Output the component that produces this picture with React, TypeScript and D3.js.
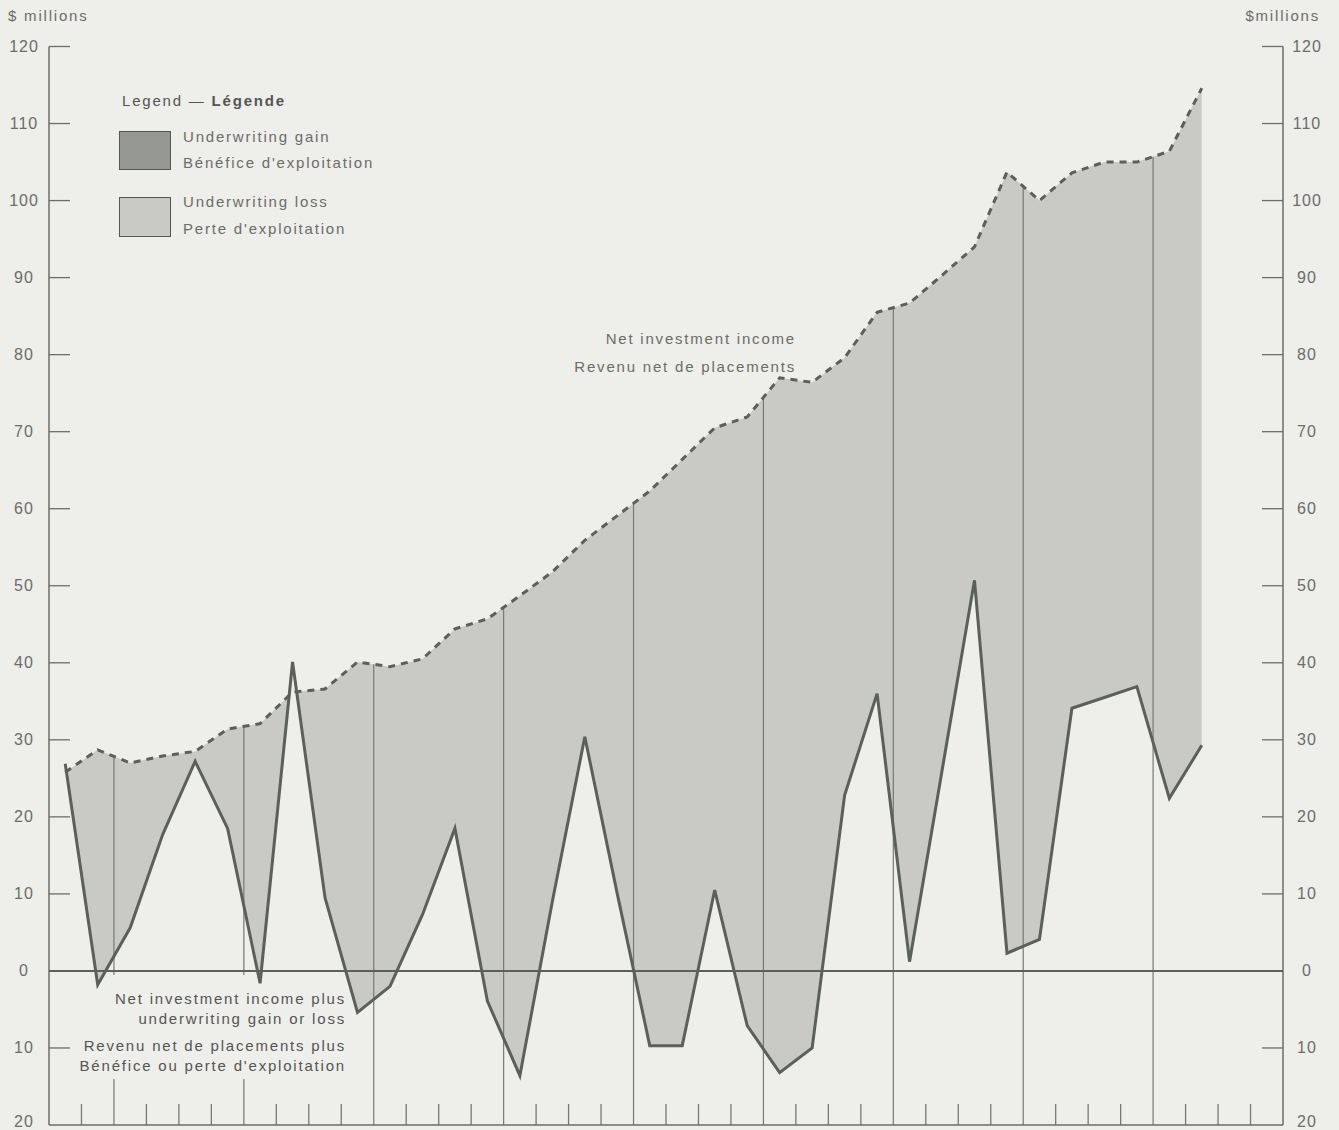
import React from 'react';
import * as d3 from 'd3';

// Quarterly data, $ millions
const netInvestmentIncome = [
  25.8, 28.7, 27.0, 27.9, 28.5, 31.4, 32.1, 36.2, 36.6, 40.1, 39.5, 40.5,
  44.4, 45.7, 48.7, 51.8, 55.9, 59.1, 62.3, 66.4, 70.5, 71.9, 77.0, 76.4,
  79.6, 85.5, 86.7, 90.3, 94.0, 103.7, 100.0, 103.6, 105.0, 105.0, 106.4, 114.6,
];
const incomePlusUnderwriting = [
  26.9, -1.8, 5.6, 17.7, 27.2, 18.5, -1.6, 40.1, 9.5, -5.4, -2.0, 7.3,
  18.5, -3.9, -13.6, 9.0, 30.4, 10.0, -9.7, -9.7, 10.5, -7.1, -13.2, -10.0,
  22.8, 36.0, 1.2, 26.0, 50.7, 2.3, 4.1, 34.1, 35.5, 36.9, 22.4, 29.3,
];
const quarterSlots = 38; // quarters spanned by the horizontal axis
const yearStartSlots = [2, 6, 10, 14, 18, 22, 26, 30, 34];
const yTicks = [120, 110, 100, 90, 80, 70, 60, 50, 40, 30, 20, 10, 0, -10, -20];
const yTickLabels = ['120', '110', '100', '90', '80', '70', '60', '50', '40', '30', '20', '10', '0', '10', '20'];

const FONT = "'Liberation Sans', Arial, Helvetica, sans-serif";
const BG = '#eeeeea';
const INK = '#5b605a';
const TEXT = '#6b6d69';

export default function App() {
  const W = 1339;
  const H = 1130;
  const x = d3.scaleLinear().domain([0, quarterSlots]).range([49, 1283]);
  const y = d3.scaleLinear().domain([-20, 120]).range([1125, 46.5]);
  const px = (_: number, i: number) => x(i + 0.5);

  const niiLine = d3.line<number>().x(px).y((d) => y(d))(netInvestmentIncome) || '';
  const totLine = d3.line<number>().x(px).y((d) => y(d))(incomePlusUnderwriting) || '';
  const aboveSolid = d3.area<number>().x(px).y0(0).y1((d) => y(d))(incomePlusUnderwriting) || '';
  const belowNii = d3.area<number>().x(px).y0(y(-20)).y1((d) => y(d))(netInvestmentIncome) || '';

  const tickSlots = d3.range(1, quarterSlots).filter((s) => !yearStartSlots.includes(s));
  const x0 = x(0);
  const x1 = x(quarterSlots);
  const yb = y(-20);

  const txt = {
    fontFamily: FONT,
    fontSize: 15,
    fill: TEXT,
    letterSpacing: 1.8,
  } as React.CSSProperties;
  const tickTxt = { ...txt, fontSize: 16, letterSpacing: 1 } as React.CSSProperties;

  return (
    <div style={{ position: 'absolute', left: 0, top: 0 }}>
      <svg width={W} height={H} viewBox={`0 0 ${W} ${H}`} style={{ display: 'block' }}>
        <defs>
          <clipPath id="aboveSolid">
            <path d={aboveSolid} />
          </clipPath>
          <clipPath id="yearClip">
            <path d="M0,0H1339V1130H0Z M78,975H350V1079H78Z" clipRule="evenodd" />
          </clipPath>
        </defs>
        <rect x={0} y={0} width={W} height={H} fill={BG} />

        {/* underwriting loss fill */}
        <path d={belowNii} fill="#c9cac5" clipPath="url(#aboveSolid)" />

        {/* year lines */}
        <g clipPath="url(#yearClip)">
          {yearStartSlots.map((s) => (
            <line
              key={s}
              x1={x(s)}
              x2={x(s)}
              y1={y((netInvestmentIncome[s - 1] + netInvestmentIncome[s]) / 2)}
              y2={yb}
              stroke="#767974"
              strokeWidth={1.2}
            />
          ))}
        </g>
        {tickSlots.map((s) => (
          <line key={s} x1={x(s)} x2={x(s)} y1={yb - 21} y2={yb} stroke="#767974" strokeWidth={1.3} />
        ))}

        {/* axes */}
        <line x1={x0} x2={x0} y1={y(120)} y2={yb} stroke="#6b6e69" strokeWidth={1.5} />
        <line x1={x1} x2={x1} y1={y(120)} y2={yb} stroke="#6b6e69" strokeWidth={1.5} />
        <line x1={x0} x2={x1} y1={yb} y2={yb} stroke="#6b6e69" strokeWidth={1.5} />
        {yTicks.map((t, i) => {
          const ty = Math.min(y(t) + 5, 1127);
          return (
            <g key={t}>
              {t !== 0 && t !== -20 && (
                <>
                  <line x1={x0} x2={x0 + 21} y1={y(t)} y2={y(t)} stroke="#6b6e69" strokeWidth={1.3} />
                  <line x1={x1 - 21} x2={x1} y1={y(t)} y2={y(t)} stroke="#6b6e69" strokeWidth={1.3} />
                </>
              )}
              <text x={24} y={ty} textAnchor="middle" style={tickTxt}>
                {yTickLabels[i]}
              </text>
              <text x={1307} y={ty} textAnchor="middle" style={tickTxt}>
                {yTickLabels[i]}
              </text>
            </g>
          );
        })}
        <line x1={x0} x2={x1} y1={y(0)} y2={y(0)} stroke={INK} strokeWidth={2} />

        {/* series lines */}
        <path d={totLine} fill="none" stroke={INK} strokeWidth={3} strokeLinejoin="miter" />
        <path d={niiLine} fill="none" stroke={INK} strokeWidth={3} strokeDasharray="7 6" />

        {/* unit labels */}
        <text x={8} y={21} style={txt}>$ millions</text>
        <text x={1320} y={21} textAnchor="end" style={txt}>$millions</text>

        {/* legend */}
        <text x={122} y={106} style={{ ...txt, fill: '#555' }}>
          Legend — <tspan fontWeight="bold">Légende</tspan>
        </text>
        <rect x={119.5} y={131.5} width={51} height={38} fill="#969893" stroke="#555" strokeWidth={1} />
        <rect x={119.5} y={197.5} width={51} height={39} fill="#c9cac5" stroke="#555" strokeWidth={1} />
        <text x={183} y={142} style={txt}>Underwriting gain</text>
        <text x={183} y={168} style={txt}>Bénéfice d'exploitation</text>
        <text x={183} y={207} style={txt}>Underwriting loss</text>
        <text x={183} y={234} style={txt}>Perte d'exploitation</text>

        {/* series annotations */}
        <text x={796} y={344} textAnchor="end" style={txt}>Net investment income</text>
        <text x={796} y={372} textAnchor="end" style={txt}>Revenu net de placements</text>

        <text x={346} y={1004} textAnchor="end" style={{ ...txt, fill: '#555' }}>Net investment income plus</text>
        <text x={346} y={1024} textAnchor="end" style={{ ...txt, fill: '#555' }}>underwriting gain or loss</text>
        <text x={346} y={1051} textAnchor="end" style={{ ...txt, fill: '#555' }}>Revenu net de placements plus</text>
        <text x={346} y={1071} textAnchor="end" style={{ ...txt, fill: '#555' }}>Bénéfice ou perte d'exploitation</text>
      </svg>
    </div>
  );
}
